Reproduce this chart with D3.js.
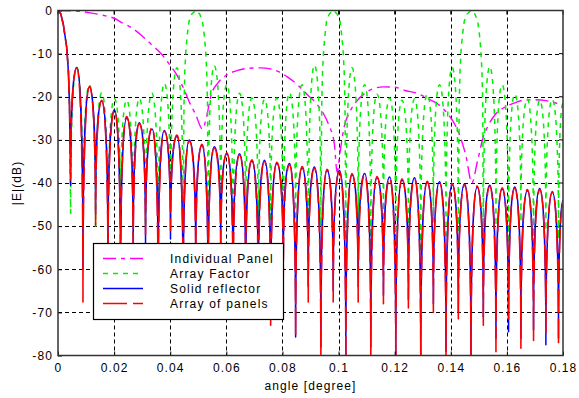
<!DOCTYPE html>
<html>
<head>
<meta charset="utf-8">
<script src="https://cdn.jsdelivr.net/npm/d3@7"></script>
<style>
  html, body { margin: 0; padding: 0; background: #fff; }
  svg { display: block; }
  text { font-family: "Liberation Sans", Arial, sans-serif; fill: #000; }
</style>
</head>
<body>
<svg id="chart" width="579" height="398"></svg>
<script>
// ---- axis ticks ----
const angleTicks  = [0, 0.02, 0.04, 0.06, 0.08, 0.1, 0.12, 0.14, 0.16, 0.18];
const angleLabels = ["0", "0.02", "0.04", "0.06", "0.08", "0.1", "0.12", "0.14", "0.16", "0.18"];
const dbTicks     = [0, -10, -20, -30, -40, -50, -60, -70, -80];
const dbLabels    = ["0", "-10", "-20", "-30", "-40", "-50", "-60", "-70", "-80"];

// ---- legend ----
const seriesNames = ["Individual Panel", "Array Factor", "Solid reflector", "Array of panels"];

// ---- Individual Panel (element pattern) ----
const panelAngle = [0, 0.006, 0.012, 0.016, 0.020, 0.023, 0.026, 0.030, 0.0335, 0.037, 0.0395, 0.042, 0.045, 0.047,
  0.049, 0.0515, 0.053, 0.0545, 0.057, 0.060, 0.064, 0.068, 0.072, 0.076, 0.079, 0.082, 0.0855, 0.089, 0.092, 0.0945,
  0.0965, 0.0985, 0.0995, 0.1005, 0.102, 0.104, 0.1065, 0.109, 0.112, 0.116, 0.120, 0.124, 0.128, 0.132, 0.136, 0.139,
  0.1415, 0.1435, 0.1455, 0.1475, 0.1495, 0.1515, 0.1535, 0.156, 0.159, 0.1625, 0.166, 0.170, 0.174, 0.177, 0.180];
const panelDb = [0, -0.1, -0.6, -1.1, -1.8, -2.9, -3.9, -5.9, -8.0, -10.2, -12.3, -14.6, -18.4, -21.5,
  -24.0, -27.5, -24.5, -19.8, -16.8, -15.0, -13.9, -13.4, -13.3, -13.6, -14.3, -15.5, -17.3, -19.6, -21.5, -23.8,
  -26.5, -31.0, -37.5, -33.0, -27.0, -23.5, -21.0, -19.4, -18.2, -17.7, -17.8, -18.6, -19.2, -20.5, -22.0, -24.0,
  -26.5, -29.5, -34.0, -40.0, -35.0, -29.5, -26.5, -24.0, -22.5, -21.5, -20.8, -20.7, -20.9, -21.4, -22.0];

// ---- Array Factor ----
const factorAngle = [0, 0.0010, 0.0019, 0.0031, 0.0037, 0.0041, 0.0045, 0.0067, 0.0089, 0.0112, 0.0134, 0.0156,
  0.0178, 0.0201, 0.0223, 0.0245, 0.0268, 0.0290, 0.0312, 0.0335, 0.0357, 0.0379, 0.0401, 0.0424, 0.0446,
  0.0449, 0.0452, 0.0456, 0.0461, 0.0467, 0.0477, 0.0491, 0.0505, 0.0515, 0.0521, 0.0526, 0.0530, 0.0533,
  0.0535, 0.0557, 0.0580, 0.0602, 0.0624, 0.0647, 0.0669, 0.0691, 0.0714, 0.0736, 0.0758, 0.0780, 0.0803,
  0.0825, 0.0847, 0.0870, 0.0892, 0.0914, 0.0937,
  0.0940, 0.0943, 0.0947, 0.0952, 0.0957, 0.0967, 0.0981, 0.0995, 0.1005, 0.1011, 0.1016, 0.1020, 0.1023,
  0.1026, 0.1048, 0.1070, 0.1093, 0.1115, 0.1137, 0.1160, 0.1182, 0.1204, 0.1226, 0.1249, 0.1271, 0.1293,
  0.1316, 0.1338, 0.1360, 0.1383, 0.1405, 0.1427,
  0.1430, 0.1433, 0.1437, 0.1442, 0.1448, 0.1458, 0.1472, 0.1486, 0.1496, 0.1502, 0.1507, 0.1511, 0.1514,
  0.1516, 0.1539, 0.1561, 0.1583, 0.1606, 0.1628, 0.1650, 0.1673, 0.1695, 0.1717, 0.1739, 0.1762, 0.1784, 0.1800];
const factorDb = [0, -0.8, -3.3, -8.6, -14, -22, -47, -13.2, -52, -17.2, -50, -19.1,
  -55, -20.4, -48, -20.8, -53, -20.4, -50, -19.2, -56, -16.9, -49, -13.3, -52,
  -22, -14, -9, -5.5, -2.5, -0.8, 0, -0.8, -2.5, -5.5, -9, -14, -22,
  -54, -12.8, -48, -17.2, -57, -19.2, -50, -20.3, -53, -20.6, -49, -20.3, -55,
  -19.1, -51, -17.2, -56, -12.7, -50,
  -22, -14, -9, -5.5, -2.5, -0.8, 0, -0.8, -2.5, -5.5, -9, -14, -22,
  -53, -13.3, -49, -17.2, -55, -19.4, -50, -20.3, -54, -20.8, -51, -20.5, -56,
  -19.4, -49, -17.2, -53, -13.2, -51,
  -22, -14, -9, -5.5, -2.5, -0.8, 0, -0.8, -2.5, -5.5, -9, -14, -22,
  -55, -13.0, -50, -17.2, -54, -19.4, -49, -20.5, -56, -20.8, -51, -20.6, -53, -21.5];

// ---- Solid reflector / Array of panels: shared lobe positions ----
const mainAngle = [0, 0.0010, 0.0019, 0.0031, 0.0037, 0.0041];
const nullAngle = [0.0045, 0.0089, 0.0134, 0.0178, 0.0223, 0.0268, 0.0312, 0.0357, 0.0401, 0.0446,
  0.0491, 0.0535, 0.0580, 0.0624, 0.0669, 0.0714, 0.0758, 0.0803, 0.0847, 0.0892,
  0.0937, 0.0981, 0.1026, 0.1070, 0.1115, 0.1160, 0.1204, 0.1249, 0.1293, 0.1338,
  0.1383, 0.1427, 0.1472, 0.1516, 0.1561, 0.1606, 0.1650, 0.1695, 0.1739, 0.1784];
const peakAngle = [0.0067, 0.0112, 0.0156, 0.0201, 0.0245, 0.0290, 0.0335, 0.0379, 0.0424, 0.0468,
  0.0513, 0.0557, 0.0602, 0.0647, 0.0691, 0.0736, 0.0780, 0.0825, 0.0870, 0.0914,
  0.0959, 0.1003, 0.1048, 0.1093, 0.1137, 0.1182, 0.1226, 0.1271, 0.1316, 0.1360,
  0.1405, 0.1449, 0.1494, 0.1539, 0.1583, 0.1628, 0.1673, 0.1717, 0.1762];
const endAngle = 0.18;

const solidMainDb = [0, -0.8, -3.2, -8.5, -14, -22];
const solidNullDb = [-40.5, -60, -47, -58, -66, -55, -54, -64, -53, -70,
  -58, -68, -55, -63, -65, -66, -70, -60, -75.7, -64,
  -78, -65, -80, -64, -78, -66, -80, -67, -82, -68,
  -79, -70, -82, -71, -76, -74.5, -76, -74, -77.5, -76];
const solidPeakDb = [-13.2, -17.8, -21.0, -23.0, -24.9, -26.0, -27.5, -27.8, -29.2, -30.0,
  -31.3, -31.6, -33.3, -33.2, -34.9, -34.7, -35.5, -35.5, -36.5, -36.3,
  -37.1, -37.1, -38.1, -37.8, -38.8, -38.6, -39.3, -38.8, -39.9, -39.7,
  -40.4, -40.2, -41.0, -40.5, -41.4, -40.9, -41.8, -41.3, -42.2];
const solidEndDb = -44;

const panelsMainDb = [0, -0.8, -3.3, -8.6, -14, -22];
const panelsNullDb = [-39.3, -67.6, -49.8, -62, -63, -58, -52, -70, -51, -66,
  -60, -65, -57, -68, -62, -70, -73, -62, -75.5, -67.6,
  -82, -67.6, -82, -67.6, -82, -68, -82, -69, -82, -70,
  -82, -71.5, -82, -73, -79.6, -72, -78.3, -76.5, -75, -77.8];
const panelsPeakDb = [-13.3, -17.6, -20.8, -23.2, -24.6, -26.3, -27.2, -28.0, -28.9, -30.3,
  -31.0, -31.9, -33.0, -33.5, -34.6, -35.0, -35.2, -35.8, -36.2, -36.6,
  -36.8, -37.4, -37.8, -38.1, -38.5, -38.9, -39.0, -39.1, -39.6, -40.0,
  -40.1, -40.5, -40.7, -40.8, -41.1, -41.2, -41.5, -41.6, -42.0];
const panelsEndDb = -45;

// ---- assemble point lists ----
const zip = (xs, ys) => xs.map((a, i) => [a, ys[i]]);
function lobes(mainDb, nullDb, peakDb, endDb) {
  const pts = zip(mainAngle, mainDb);
  nullAngle.forEach((a, i) => {
    pts.push([a, nullDb[i]]);
    if (i < peakAngle.length) pts.push([peakAngle[i], peakDb[i]]);
  });
  pts.push([endAngle, endDb]);
  return pts;
}

// ---- layout ----
const svg = d3.select("#chart");
const plotLeft = 58, plotRight = 563, plotTop = 10.5, plotBottom = 355.5;
const x = d3.scaleLinear().domain([0, 0.18]).range([plotLeft, plotRight]);
const y = d3.scaleLinear().domain([-80, 0]).range([plotBottom, plotTop]);
const snap = v => Math.round(v) + 0.5;

// Lobed pattern path: between a peak and a null the segment stays flat near the
// peak and falls steeply into the null, like a sidelobe on a dB scale.
function lobePath(data) {
  const pts = data.map(d => [x(d[0]), y(d[1])]);
  const n = pts.length;
  const isMin = i => (i === 0 || pts[i][1] >= pts[i - 1][1]) && (i === n - 1 || pts[i][1] >= pts[i + 1][1]);
  const isMax = i => (i === 0 || pts[i][1] <= pts[i - 1][1]) && (i === n - 1 || pts[i][1] <= pts[i + 1][1]);
  const a = 0.5, b = 0.7;
  const p = d3.path();
  p.moveTo(pts[0][0], pts[0][1]);
  for (let i = 1; i < n; i++) {
    const A = pts[i - 1], B = pts[i], dx = B[0] - A[0];
    if (isMax(i - 1) && isMin(i)) {
      p.bezierCurveTo(A[0] + a * dx, A[1], B[0], B[1] - b * (B[1] - A[1]), B[0], B[1]);
    } else if (isMin(i - 1) && isMax(i)) {
      p.bezierCurveTo(A[0], A[1] - b * (A[1] - B[1]), B[0] - a * dx, B[1], B[0], B[1]);
    } else {
      p.lineTo(B[0], B[1]);
    }
  }
  return p.toString();
}
const smoothLine = d3.line().x(d => x(d[0])).y(d => y(d[1])).curve(d3.curveMonotoneX);

const series = [
  { name: seriesNames[0], d: smoothLine(zip(panelAngle, panelDb)), color: "#ff00ff", dash: "13,5,4,5", width: 1.4 },
  { name: seriesNames[1], d: lobePath(zip(factorAngle, factorDb)), color: "#00ee00", dash: "5,5", width: 1.5 },
  { name: seriesNames[2], d: lobePath(lobes(solidMainDb, solidNullDb, solidPeakDb, solidEndDb)), color: "#0000ff", dash: null, width: 1.5 },
  { name: seriesNames[3], d: lobePath(lobes(panelsMainDb, panelsNullDb, panelsPeakDb, panelsEndDb)), color: "#ff0000", dash: "24,6", width: 1.6 }
];

svg.append("rect").attr("width", 579).attr("height", 398).attr("fill", "#fff");

// grid
const grid = svg.append("g").attr("stroke", "#000").attr("stroke-width", 1).attr("stroke-dasharray", "4,3");
angleTicks.slice(1, -1).forEach(t => {
  grid.append("line").attr("x1", snap(x(t))).attr("x2", snap(x(t))).attr("y1", plotTop).attr("y2", plotBottom);
});
dbTicks.slice(1, -1).forEach(t => {
  grid.append("line").attr("y1", snap(y(t))).attr("y2", snap(y(t))).attr("x1", plotLeft).attr("x2", plotRight);
});

// curves
svg.append("clipPath").attr("id", "plotClip")
  .append("rect").attr("x", plotLeft).attr("y", plotTop).attr("width", plotRight - plotLeft).attr("height", plotBottom - plotTop);
const curves = svg.append("g").attr("clip-path", "url(#plotClip)");
series.forEach(s => {
  curves.append("path").attr("d", s.d)
    .attr("fill", "none").attr("stroke", s.color).attr("stroke-width", s.width)
    .attr("stroke-dasharray", s.dash).attr("stroke-linejoin", "round");
});

// axes
const fmtX = d => angleLabels[angleTicks.indexOf(d)];
const fmtY = d => dbLabels[dbTicks.indexOf(d)];
const ax = svg.append("g").attr("transform", `translate(0,${plotBottom})`)
  .call(d3.axisBottom(x).tickValues(angleTicks).tickFormat(fmtX).tickSizeInner(-4).tickSizeOuter(0).tickPadding(8));
const ay = svg.append("g").attr("transform", `translate(${plotLeft},0)`)
  .call(d3.axisLeft(y).tickValues(dbTicks).tickFormat(fmtY).tickSizeInner(-4).tickSizeOuter(0).tickPadding(5));
[ax, ay].forEach(g => {
  g.select(".domain").remove();
  g.selectAll("line").attr("stroke", "#000");
  g.selectAll("text").attr("font-size", 12).attr("letter-spacing", "1.1px")
    .attr("font-family", "'Liberation Sans', Arial, sans-serif").attr("fill", "#000");
});
// ticks along the top and right edges
svg.append("g").selectAll("line").data(angleTicks).join("line")
  .attr("x1", d => x(d)).attr("x2", d => x(d)).attr("y1", plotTop).attr("y2", plotTop + 4).attr("stroke", "#000");
svg.append("g").selectAll("line").data(dbTicks).join("line")
  .attr("y1", d => y(d)).attr("y2", d => y(d)).attr("x1", plotRight).attr("x2", plotRight - 4).attr("stroke", "#000");

// frame
svg.append("rect").attr("x", plotLeft).attr("y", plotTop).attr("width", plotRight - plotLeft).attr("height", plotBottom - plotTop)
  .attr("fill", "none").attr("stroke", "#333").attr("stroke-width", 1.5);

// axis titles
svg.append("text").attr("x", (plotLeft + plotRight) / 2).attr("y", 390).attr("text-anchor", "middle")
  .attr("font-size", 12).attr("letter-spacing", "1.1px").text("angle [degree]");
svg.append("text").attr("transform", `translate(21,${(plotTop + plotBottom) / 2}) rotate(-90)`).attr("text-anchor", "middle")
  .attr("font-size", 12).attr("letter-spacing", "1.1px").text("|E|(dB)");

// legend
const lg = svg.append("g");
lg.append("rect").attr("x", 93.5).attr("y", 243.5).attr("width", 190).attr("height", 76)
  .attr("fill", "#fff").attr("stroke", "#000").attr("stroke-width", 1.2);
series.forEach((s, i) => {
  const ry = 258.5 + i * 15;
  lg.append("line").attr("x1", 103).attr("x2", 143).attr("y1", ry).attr("y2", ry)
    .attr("stroke", s.color).attr("stroke-width", s.width).attr("stroke-dasharray", s.dash);
  lg.append("text").attr("x", 170).attr("y", ry + 4.5).attr("font-size", 12).attr("letter-spacing", "1.2px").text(s.name);
});
</script>
</body>
</html>
